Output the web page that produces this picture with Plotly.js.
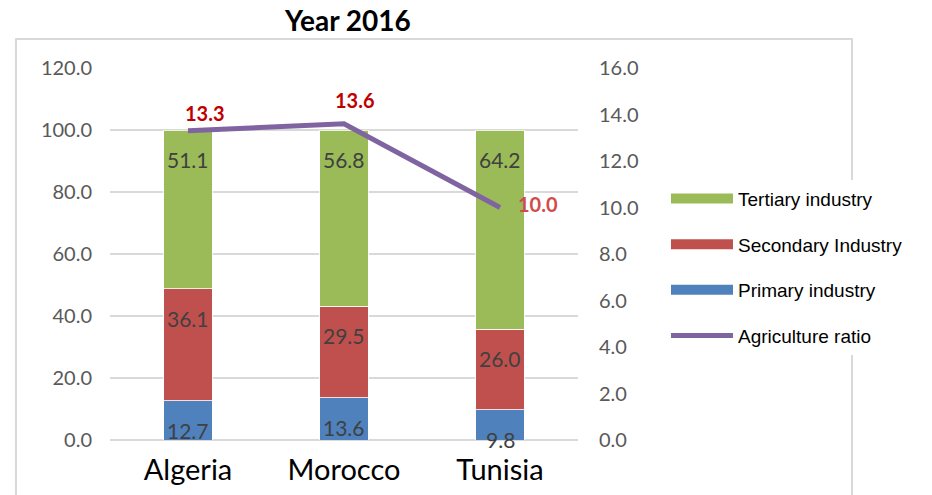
<!DOCTYPE html>
<html><head><meta charset="utf-8">
<script src="https://cdn.plot.ly/plotly-3.0.1.min.js"></script>
<style>html,body{margin:0;padding:0;background:#fff}#chart{width:932px;height:495px}</style>
</head><body><div id="chart"></div>
<script>
const countries = ['Algeria', 'Morocco', 'Tunisia'];
const primary = [12.7, 13.6, 9.8];
const secondary = [36.1, 29.5, 26.0];
const tertiary = [51.1, 56.8, 64.2];
const agriRatio = [13.3, 13.6, 10.0];
const leftTicks = [0, 20, 40, 60, 80, 100, 120];
const rightTicks = [0, 2, 4, 6, 8, 10, 12, 14, 16];

const F = 'Lato, "Noto Sans", sans-serif';
const barW = 0.31;
function barTrace(name, vals, color) {
  return {type: 'bar', name: name, x: countries, y: vals, width: barW,
    marker: {color: color, line: {color: '#ffffff', width: 0.8}},
    legendgroup: name, showlegend: false, hoverinfo: 'y'};
}
// wide legend swatches: same series drawn as thick lines on a hidden axis whose range keeps them out of view
function legendSwatch(name, vals, color, rank) {
  return {type: 'scatter', mode: 'lines', name: name, x: countries, y: vals, yaxis: 'y3',
    line: {color: color, width: 13}, legendgroup: name, legendrank: rank, showlegend: true,
    hoverinfo: 'skip'};
}
const traces = [
  barTrace('Primary industry', primary, '#4f81bd'),
  barTrace('Secondary Industry', secondary, '#c0504d'),
  barTrace('Tertiary industry', tertiary, '#9bbb59'),
  legendSwatch('Tertiary industry', tertiary, '#9bbb59', 1),
  legendSwatch('Secondary Industry', secondary, '#c0504d', 2),
  legendSwatch('Primary industry', primary, '#4f81bd', 3),
  {type: 'scatter', mode: 'lines', name: 'Agriculture ratio', x: countries, y: agriRatio,
    yaxis: 'y2', legendgroup: 'agri', legendrank: 4,
    line: {color: '#8064a2', width: 5}, cliponaxis: false}
];

const annotations = [];
// in-bar value labels near the top of each segment
const stacks = [primary, secondary, tertiary];
countries.forEach((c, i) => {
  let cum = 0;
  stacks.forEach(s => {
    cum += s[i];
    annotations.push({x: c, y: cum, xref: 'x', yref: 'y', text: s[i].toFixed(1),
      showarrow: false, yanchor: 'top', yshift: -15,
      font: {family: F, size: 21, color: '#404040'}});
  });
});
// agriculture ratio labels
const lblShift = [[17, 18], [11, 24], [38, 4]];
const lblColor = ['#c00000', '#c00000', '#d24b4b'];
countries.forEach((c, i) => {
  annotations.push({x: c, y: agriRatio[i], xref: 'x', yref: 'y2', text: '<b>' + agriRatio[i].toFixed(1) + '</b>',
    showarrow: false, xanchor: 'center', yanchor: 'middle',
    xshift: lblShift[i][0], yshift: lblShift[i][1],
    font: {family: F, size: 20, color: lblColor[i]}});
});
annotations.push({text: '<b>Year 2016</b>', xref: 'paper', yref: 'paper', x: 0.5, y: 1.0,
  xshift: 3, yanchor: 'middle', yshift: 48, showarrow: false,
  font: {family: F, size: 28, color: '#000'}});

const layout = {
  width: 932, height: 495,
  margin: {l: 110, r: 354, t: 68, b: 55},
  paper_bgcolor: '#ffffff', plot_bgcolor: '#ffffff',
  barmode: 'stack',
  showlegend: true,
  legend: {x: 1.188, y: 0.70, xanchor: 'left', yanchor: 'top', bgcolor: '#ffffff',
    font: {family: '"Liberation Sans", Arial, sans-serif', size: 19, color: '#000'},
    tracegroupgap: 18, itemwidth: 62, traceorder: 'grouped'},
  xaxis: {type: 'category', range: [-0.5, 2.5], showgrid: false, showline: false,
    zeroline: false, ticks: '', tickfont: {family: F, size: 29, color: '#000'},
    ticklabelstandoff: 10, fixedrange: true},
  yaxis: {range: [0, 120], tickvals: leftTicks, tickformat: '.1f',
    showgrid: true, gridcolor: '#d9d9d9', gridwidth: 1.5,
    zeroline: true, zerolinecolor: '#d9d9d9', zerolinewidth: 1.5,
    showline: false, ticks: '', ticklabelstandoff: 17,
    tickfont: {family: F, size: 20, color: '#595959'}, fixedrange: true},
  yaxis2: {range: [0, 16], tickvals: rightTicks, tickformat: '.1f', overlaying: 'y',
    side: 'right', showgrid: false, zeroline: false, showline: false, ticks: '',
    ticklabelstandoff: 20, tickfont: {family: F, size: 20, color: '#595959'}, fixedrange: true},
  yaxis3: {range: [1000, 2000], overlaying: 'y', visible: false, fixedrange: true},
  shapes: [{type: 'rect', xref: 'paper', yref: 'paper', x0: -0.2009, x1: 1.5855,
    y0: -0.2, y1: 1.078, line: {color: '#d9d9d9', width: 2}, layer: 'below'}],
  annotations: annotations
};
Plotly.newPlot('chart', traces, layout, {displayModeBar: false, staticPlot: true});
</script></body></html>
